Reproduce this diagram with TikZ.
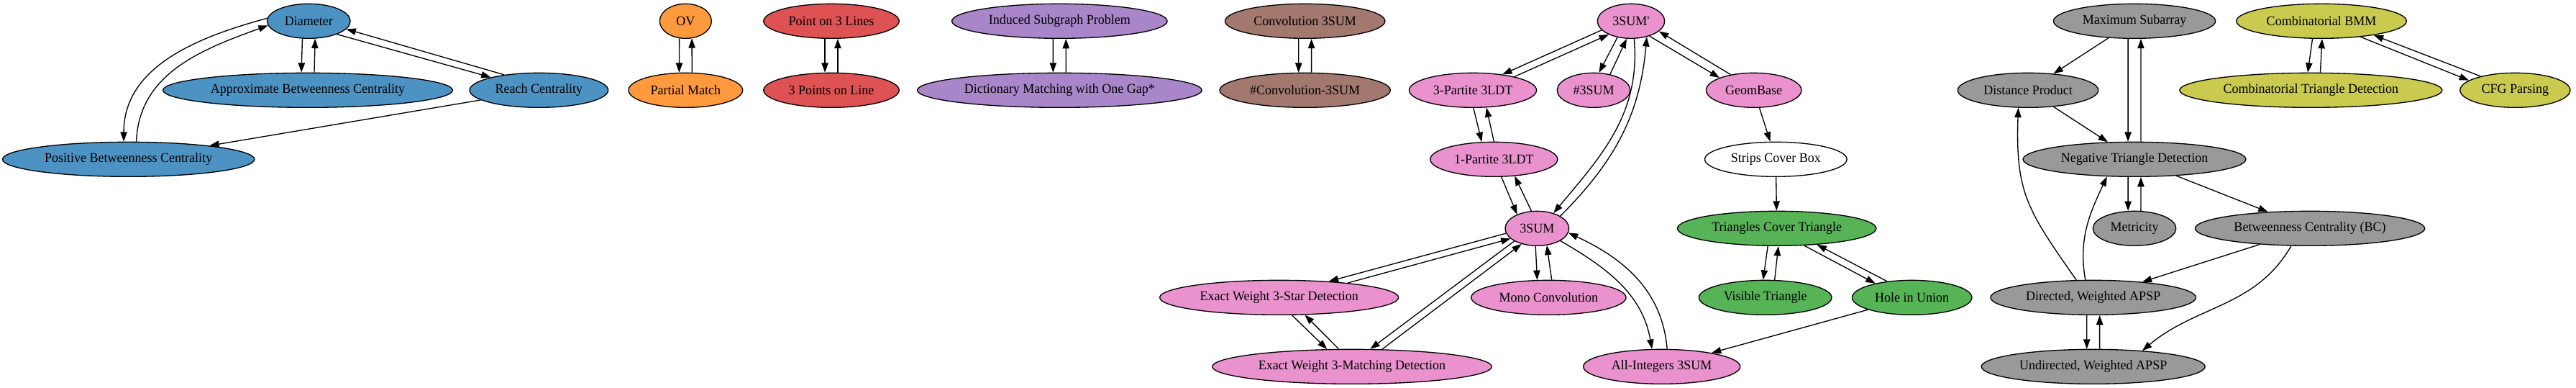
\documentclass[tikz,border=0pt]{standalone}
\usepackage{fontspec}
\setmainfont[FakeStretch=0.965]{Liberation Serif}
\usepackage{tikz}
\usetikzlibrary{arrows.meta, shapes.geometric, positioning}

\definecolor{tabblue}{RGB}{76,146,195}
\definecolor{taborange}{RGB}{255,153,62}
\definecolor{tabred}{RGB}{222,82,83}
\definecolor{tabpurple}{RGB}{169,133,202}
\definecolor{tabbrown}{RGB}{163,120,111}
\definecolor{tabpink}{RGB}{233,146,206}
\definecolor{tabgreen}{RGB}{86,179,86}
\definecolor{tabgray}{RGB}{153,153,153}
\definecolor{tabolive}{RGB}{201,202,78}

\begin{document}
\begin{tikzpicture}[
  x=1pt, y=1pt,
  prob/.style = {ellipse, draw, line width=1pt, minimum width=54pt, minimum height=36pt,
                 inner xsep=5.5pt, inner ysep=3pt, font=\fontsize{14}{16}\selectfont},
  arr/.style  = {-{Triangle[length=10pt, width=7pt]}, line width=1pt}
]
  \useasboundingbox (0,0) rectangle (2686.5,404);

  \node[prob, fill=tabblue] (dia)   at (322,382) {Diameter};
  \node[prob, fill=tabblue] (abc)   at (321,310) {Approximate Betweenness Centrality};
  \node[prob, fill=tabblue] (reach) at (562,310) {Reach Centrality};
  \node[prob, fill=tabblue] (pbc)   at (134,238) {Positive Betweenness Centrality};

  \node[prob, fill=taborange] (ov) at (715,382) {OV};
  \node[prob, fill=taborange] (pm) at (715,310) {Partial Match};

  \node[prob, fill=tabred] (p3l)  at (867,382) {Point on 3 Lines};
  \node[prob, fill=tabred] (p3ol) at (867,310) {3 Points on Line};

  \node[prob, fill=tabpurple] (isp) at (1105,382) {Induced Subgraph Problem};
  \node[prob, fill=tabpurple] (dmg) at (1105,310) {Dictionary Matching with One Gap*};

  \node[prob, fill=tabbrown] (cs)  at (1361,382) {Convolution 3SUM};
  \node[prob, fill=tabbrown] (ncs) at (1361,310) {\#Convolution-3SUM};

  \node[prob, fill=tabpink] (tsp) at (1701,382) {3SUM\textquotesingle};
  \node[prob, fill=tabpink] (tp3) at (1536,310) {3-Partite 3LDT};
  \node[prob, fill=tabpink] (nts) at (1662,310) {\#3SUM};
  \node[prob, fill=tabpink] (gb)  at (1829,310) {GeomBase};
  \node[prob, fill=tabpink] (op3) at (1558,238) {1-Partite 3LDT};
  \node[prob, fill=white]   (scb) at (1852,238) {Strips Cover Box};
  \node[prob, fill=tabpink] (ts)  at (1603,166) {3SUM};
  \node[prob, fill=tabpink] (ews) at (1334,94) {Exact Weight 3-Star Detection};
  \node[prob, fill=tabpink] (mc)  at (1615,94) {Mono Convolution};
  \node[prob, fill=tabpink] (ewm) at (1410,22) {Exact Weight 3-Matching Detection};
  \node[prob, fill=tabpink] (ai)  at (1733,22) {All-Integers 3SUM};

  \node[prob, fill=tabgreen] (tct) at (1853,166) {Triangles Cover Triangle};
  \node[prob, fill=tabgreen] (vt)  at (1841,94) {Visible Triangle};
  \node[prob, fill=tabgreen] (hu)  at (1994,94) {Hole in Union};

  \node[prob, fill=tabgray] (ms)    at (2226,382) {Maximum Subarray};
  \node[prob, fill=tabgray] (dp)    at (2115,310) {Distance Product};
  \node[prob, fill=tabgray] (ntd)   at (2226,238) {Negative Triangle Detection};
  \node[prob, fill=tabgray] (met)   at (2226,166) {Metricity};
  \node[prob, fill=tabgray] (bc)    at (2409,166) {Betweenness Centrality (BC)};
  \node[prob, fill=tabgray] (dapsp) at (2183,94) {Directed, Weighted APSP};
  \node[prob, fill=tabgray] (uapsp) at (2183,22) {Undirected, Weighted APSP};

  \node[prob, fill=tabolive] (cbmm) at (2421,382) {Combinatorial BMM};
  \node[prob, fill=tabolive] (ctd)  at (2410,310) {Combinatorial Triangle Detection};
  \node[prob, fill=tabolive] (cfg)  at (2623,310) {CFG Parsing};

  \draw[arr] (dia.-110) -- (abc.110);
  \draw[arr] (abc.70) -- (dia.-70);
  \draw[arr] (dia.-25) -- (reach.165);
  \draw[arr] (reach.156) -- (dia.-12);
  \draw[arr] (dia.176) to[out=195, in=90] (pbc.105);
  \draw[arr] (pbc.66) to[out=88, in=200] (dia.186);
  \draw[arr] (reach) -- (pbc);

  \draw[arr] (ov.-110) -- (pm.110);
  \draw[arr] (pm.70) -- (ov.-70);
  \draw[arr] (p3l.-110) -- (p3ol.110);
  \draw[arr] (p3ol.70) -- (p3l.-70);
  \draw[arr] (isp.-110) -- (dmg.110);
  \draw[arr] (dmg.70) -- (isp.-70);
  \draw[arr] (cs.-110) -- (ncs.110);
  \draw[arr] (ncs.70) -- (cs.-70);

  \draw[arr] (tsp.197) -- (tp3.28);
  \draw[arr] (tp3.18) -- (tsp.211);
  \draw[arr] (tsp.-130) -- (nts.73);
  \draw[arr] (nts.44) -- (tsp.-104);
  \draw[arr] (tsp.-39) -- (gb.160);
  \draw[arr] (gb.146) -- (tsp.-20);
  \draw[arr] (tsp.-80) to[out=-85, in=50] (ts.43);
  \draw[arr] (ts.28) to[out=45, in=-95] (tsp.-45);
  \draw[arr] (tp3.-88) -- (op3.125);
  \draw[arr] (op3.90) -- (tp3.-52);
  \draw[arr] (op3.-67) -- (ts.145);
  \draw[arr] (ts.108) -- (op3.-39);
  \draw[arr] (gb) -- (scb);
  \draw[arr] (scb) -- (tct);
  \draw[arr] (ts.189) -- (ews.18);
  \draw[arr] (ews.12) -- (ts.201);
  \draw[arr] (ts.209) -- (ewm.44);
  \draw[arr] (ewm.30) -- (ts.225);
  \draw[arr] (ews.-54) -- (ewm.145);
  \draw[arr] (ewm.127) -- (ews.-34);
  \draw[arr] (ts.-95) -- (mc.123);
  \draw[arr] (mc.80) -- (ts.-60);
  \draw[arr] (ts.-28) to[out=-30, in=100] (ai.119);
  \draw[arr] (ai.73) to[out=95, in=-25] (ts.-8);

  \draw[arr] (tct.-117) -- (vt.97);
  \draw[arr] (vt.62) -- (tct.-85);
  \draw[arr] (tct.-32) -- (hu.159);
  \draw[arr] (hu.147) -- (tct.-22);
  \draw[arr] (hu) -- (ai);

  \draw[arr] (ms) -- (dp);
  \draw[arr] (ms.-110) -- (ntd.110);
  \draw[arr] (ntd.70) -- (ms.-70);
  \draw[arr] (dp) -- (ntd);
  \draw[arr] (ntd.-110) -- (met.110);
  \draw[arr] (met.70) -- (ntd.-70);
  \draw[arr] (ntd) -- (bc);
  \draw[arr] (bc) -- (dapsp);
  \draw[arr] (bc.-137) to[out=-120, in=40] (uapsp.18);
  \draw[arr] (dapsp.134) to[out=125, in=-92, looseness=1.2] (dp.-119);
  \draw[arr] (dapsp.114) to[out=100, in=-115] (ntd.-148);
  \draw[arr] (dapsp.-110) -- (uapsp.110);
  \draw[arr] (uapsp.70) -- (dapsp.-70);

  \draw[arr] (cbmm.-117) -- (ctd.100);
  \draw[arr] (ctd.62) -- (cbmm.-88);
  \draw[arr] (cbmm.-22) -- (cfg.168);
  \draw[arr] (cfg.158) -- (cbmm.-15);
\end{tikzpicture}
\end{document}
